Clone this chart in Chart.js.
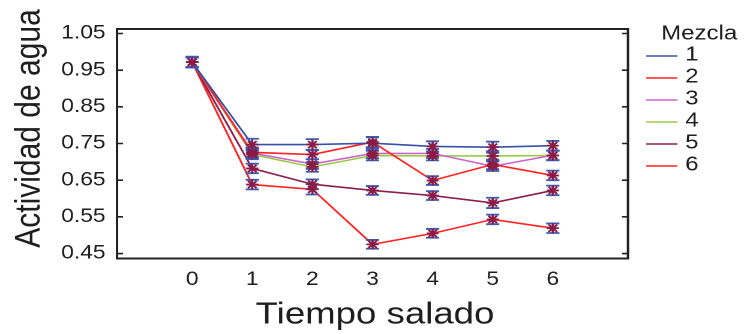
<!DOCTYPE html>
<html>
<head>
<meta charset="utf-8">
<script src="https://cdn.jsdelivr.net/npm/chart.js@4.4.1/dist/chart.umd.min.js"></script>
<style>
  html, body { margin: 0; padding: 0; background: #fff; overflow: hidden; }
  #wrap { width: 621px; height: 334px; transform: scaleX(1.2); transform-origin: 0 0; }
</style>
</head>
<body>
<div id="wrap"><canvas id="c"></canvas></div>
<script>
// ---- data ----
const tiempo = [0, 1, 2, 3, 4, 5, 6];
const xTickLabels = [0, 1, 2, 3, 4, 5, 6];
const yTickLabels = [0.45, 0.55, 0.65, 0.75, 0.85, 0.95, 1.05];
const mezclas = ['1', '2', '3', '4', '5', '6'];
const mezcla1 = [0.972, 0.747, 0.747, 0.751, 0.742, 0.740, 0.744];
const mezcla2 = [0.972, 0.726, 0.720, 0.754, 0.649, 0.693, 0.663];
const mezcla3 = [0.972, 0.724, 0.694, 0.723, 0.723, 0.688, 0.718];
const mezcla4 = [0.972, 0.720, 0.686, 0.717, 0.716, 0.716, 0.717];
const mezcla5 = [0.972, 0.682, 0.639, 0.622, 0.608, 0.588, 0.622];
const mezcla6 = [0.972, 0.638, 0.625, 0.475, 0.505, 0.543, 0.519];
const error1 = [0.015, 0.016, 0.015, 0.016, 0.014, 0.015, 0.013];
const error2 = [0.013, 0.013, 0.013, 0.014, 0.012, 0.013, 0.013];
const error3 = [0.013, 0.013, 0.013, 0.013, 0.012, 0.013, 0.013];
const error4 = [0.013, 0.013, 0.013, 0.013, 0.012, 0.013, 0.013];
const error5 = [0.013, 0.013, 0.013, 0.012, 0.012, 0.014, 0.013];
const error6 = [0.013, 0.013, 0.014, 0.012, 0.012, 0.013, 0.013];

const series = [mezcla1, mezcla2, mezcla3, mezcla4, mezcla5, mezcla6];
const errores = [error1, error2, error3, error4, error5, error6];
const colores = ['#3552a8', '#ff2222', '#cc66cc', '#99cc44', '#8b1f4f', '#ff2222'];

Chart.defaults.font.family = '"Liberation Sans", Arial, Helvetica, sans-serif';
Chart.defaults.color = '#222';

const datasets = series.map((vals, i) => ({
  label: mezclas[i],
  data: vals.map((v, j) => ({ x: tiempo[j], y: v })),
  borderColor: colores[i],
  backgroundColor: colores[i],
  borderWidth: 1.6,
  pointStyle: 'star',
  pointRadius: 5,
  pointBorderColor: '#8b1a45',
  pointBackgroundColor: '#8b1a45',
  pointBorderWidth: 1.6,
  tension: 0,
  fill: false
}));

const TXT = '#1e1e1e';

const decor = {
  id: 'decor',
  afterDatasetsDraw(chart) {
    const { ctx, chartArea: a, scales: { x, y } } = chart;
    ctx.save();
    ctx.strokeStyle = '#3d5ab0';
    ctx.lineWidth = 1.8;
    series.forEach((vals, i) => {
      vals.forEach((v, j) => {
        const px = x.getPixelForValue(tiempo[j]);
        const e = errores[i][j];
        const y1 = y.getPixelForValue(v + e);
        const y2 = y.getPixelForValue(v - e);
        ctx.beginPath();
        ctx.moveTo(px, y1); ctx.lineTo(px, y2);
        ctx.moveTo(px - 5.5, y1); ctx.lineTo(px + 5.5, y1);
        ctx.moveTo(px - 5.5, y2); ctx.lineTo(px + 5.5, y2);
        ctx.stroke();
      });
    });
    ctx.restore();
    // markers on top of the error bars
    chart.data.datasets.forEach((ds, i) => {
      chart.getDatasetMeta(i).data.forEach(p => p.draw(ctx, a));
    });
  },
  afterDraw(chart) {
    const { ctx, chartArea: a, scales: { y } } = chart;
    ctx.save();
    // frame
    ctx.strokeStyle = '#222';
    ctx.lineWidth = 2;
    ctx.strokeRect(a.left, a.top, a.right - a.left, a.bottom - a.top);
    // inward y ticks on both sides
    ctx.lineWidth = 1.6;
    yTickLabels.forEach(v => {
      const py = y.getPixelForValue(v);
      ctx.beginPath();
      ctx.moveTo(a.left, py); ctx.lineTo(a.left + 5, py);
      ctx.moveTo(a.right, py); ctx.lineTo(a.right - 5, py);
      ctx.stroke();
    });
    // axis titles
    ctx.fillStyle = TXT;
    ctx.textAlign = 'center';
    ctx.textBaseline = 'alphabetic';
    ctx.font = '30.5px "Liberation Sans", Arial, sans-serif';
    ctx.fillText('Tiempo salado', 312.5, 323.5);
    ctx.save();
    ctx.font = '30px "Liberation Sans", Arial, sans-serif';
    ctx.translate(32.8, 128.5);
    ctx.rotate(-Math.PI / 2);
    ctx.fillText('Actividad de agua', 0, 0);
    ctx.restore();
    // legend
    ctx.textAlign = 'left';
    ctx.font = '20px "Liberation Sans", Arial, sans-serif';
    ctx.fillText('Mezcla', 551, 39.3);
    chart.data.datasets.forEach((ds, i) => {
      const ly = 56 + i * 22;
      ctx.strokeStyle = ds.borderColor;
      ctx.lineWidth = 1.6;
      ctx.beginPath();
      ctx.moveTo(538.5, ly); ctx.lineTo(564.5, ly);
      ctx.stroke();
      ctx.fillStyle = TXT;
      ctx.fillText(ds.label, 571, ly + 4.4);
    });
    ctx.restore();
  }
};

new Chart(document.getElementById('c'), {
  type: 'line',
  data: { datasets },
  options: {
    responsive: true,
    maintainAspectRatio: false,
    animation: false,
    devicePixelRatio: 2,
    layout: { padding: { left: 0, right: 97.7, top: 29, bottom: 0 } },
    plugins: { legend: { display: false }, tooltip: { enabled: false } },
    scales: {
      x: {
        type: 'linear',
        min: -1.25,
        max: 7.25,
        grid: { display: false, drawTicks: false },
        border: { display: false },
        afterBuildTicks: s => { s.ticks = xTickLabels.map(v => ({ value: v })); },
        afterFit: s => { s.height = 75.5; },
        ticks: { font: { size: 19 }, padding: 10, color: TXT, maxRotation: 0, autoSkip: false,
                 callback: v => String(v) }
      },
      y: {
        type: 'linear',
        min: 0.4364,
        max: 1.0623,
        grid: { display: false, drawTicks: false },
        border: { display: false },
        afterBuildTicks: s => { s.ticks = yTickLabels.map(v => ({ value: v })); },
        afterFit: s => { s.width = 97.5; },
        ticks: { font: { size: 19 }, padding: 9.5, color: TXT, autoSkip: false,
                 callback: v => Number(v).toFixed(2) }
      }
    }
  },
  plugins: [decor]
});
</script>
</body>
</html>
